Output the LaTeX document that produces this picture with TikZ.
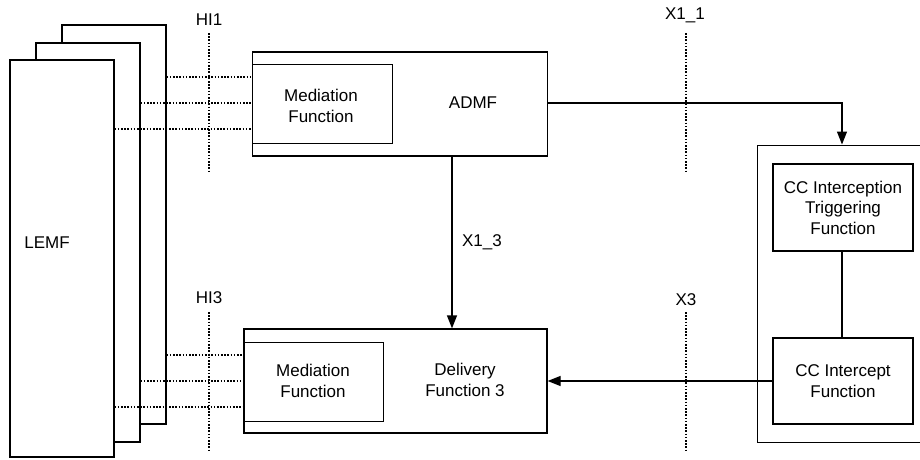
\documentclass[tikz,border=0pt]{standalone}
\usepackage{fontspec}
\setmainfont{Liberation Sans}
\usetikzlibrary{arrows.meta}
\tikzset{
  box/.style={draw, line width=1.3pt, fill=white, inner sep=0pt, rectangle},
  thinbox/.style={draw, line width=1pt, fill=white, inner sep=0pt, rectangle},
  lbl/.style={inner sep=0pt, align=center, font=\fontsize{17}{20.5}\selectfont},
  dotline/.style={line width=1.3pt, dash pattern=on 1.6pt off 1.6pt},
  arr/.style={line width=1.3pt, -{Triangle[length=13pt,width=10pt]}},
  conn/.style={line width=1.3pt}
}
\begin{document}
\begin{tikzpicture}[x=1pt,y=-1pt]
\useasboundingbox (0,0) rectangle (920,459);
% LEMF stack
\node[box, minimum width=104pt, minimum height=399pt] (back) at (114,224.5) {};
\node[box, minimum width=104pt, minimum height=399pt] (mid) at (88,242.5) {};
\node[box, minimum width=104pt, minimum height=397pt] (front) at (62,258.5) {};
\node[lbl] (lemf) at (47,243) {LEMF};
% ADMF
\node[box, minimum width=295pt, minimum height=104pt] (admf) at (400,104) {};
\node[thinbox, minimum width=140pt, minimum height=79pt] (med1) at (322,103.5) {};
\node[lbl] (med1t) at (321,106) {Mediation\\Function};
\node[lbl] (admft) at (473,103) {ADMF};
% Delivery
\node[box, minimum width=303pt, minimum height=104pt] (deliv) at (395.5,381) {};
\node[thinbox, minimum width=139pt, minimum height=79pt] (med3) at (313.5,381.5) {};
\node[lbl] (med3t) at (313,381) {Mediation\\Function};
\node[lbl] (delt) at (465,380) {Delivery\\Function 3};
% Right system (right edge lies beyond the page)
\node[thinbox, minimum width=167pt, minimum height=297pt] (sys) at (840.5,293.5) {};
\node[box, minimum width=140pt, minimum height=87pt] (trig) at (843,207.5) {};
\node[lbl] at (trig.center) {CC Interception\\Triggering\\Function};
\node[box, minimum width=140pt, minimum height=86pt] (icpt) at (843,381) {};
\node[lbl] at (icpt.center) {CC Intercept\\Function};
% interface labels
\node[lbl] (hi1) at (209,20) {HI1};
\node[lbl] (x11) at (685,15) {X1\_1};
\node[lbl] (hi3) at (209,298) {HI3};
\node[lbl] (x3) at (686,300) {X3};
\node[lbl] (x13) at (482,242) {X1\_3};
% dotted interface lines
\coordinate (hi1a) at (209,33); \coordinate (hi1b) at (209,172);
\coordinate (x11a) at (686,33); \coordinate (x11b) at (686,172);
\coordinate (hi3a) at (209,312); \coordinate (hi3b) at (209,450);
\coordinate (x3a) at (686,312); \coordinate (x3b) at (686,450);
\draw[dotline] (hi1a) -- (hi1b);
\draw[dotline] (x11a) -- (x11b);
\draw[dotline] (hi3a) -- (hi3b);
\draw[dotline] (x3a) -- (x3b);
% dotted links from LEMF
\draw[dotline] (back.east |- 0,77) -- (admf.west |- 0,77);
\draw[dotline] (mid.east |- 0,103) -- (admf.west |- 0,103);
\draw[dotline] (front.east |- 0,129) -- (admf.west |- 0,129);
\draw[dotline] (back.east |- 0,355) -- (deliv.west |- 0,355);
\draw[dotline] (mid.east |- 0,381) -- (deliv.west |- 0,381);
\draw[dotline] (front.east |- 0,407) -- (deliv.west |- 0,407);
% arrows
\draw[arr] (admf.east |- 0,103) -| (sys.north -| 842,0);
\draw[arr] (admf.south -| 452,0) -- (deliv.north -| 452,0);
\draw[conn] (trig.south -| 842,0) -- (icpt.north -| 842,0);
\draw[arr] (icpt.west) -- (deliv.east);
\end{tikzpicture}
\end{document}
